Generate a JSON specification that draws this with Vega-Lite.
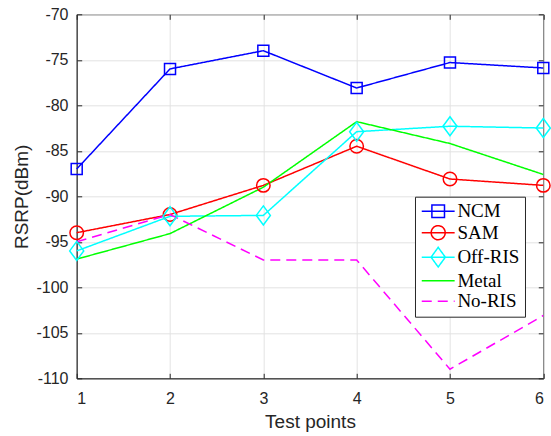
{
  "$schema": "https://vega.github.io/schema/vega-lite/v6.json",
  "width": 466.6,
  "height": 364,
  "autosize": "none",
  "padding": {"left": 76.7, "top": 14.3, "right": 8, "bottom": 58},
  "background": "white",
  "config": {
    "view": {"stroke": "#262626", "strokeWidth": 1},
    "axis": {
      "labelFont": "Liberation Sans",
      "labelFontSize": 16,
      "labelColor": "#262626",
      "titleFont": "Liberation Sans",
      "titleFontSize": 19,
      "titleFontWeight": "normal",
      "titleColor": "#262626",
      "domainColor": "#262626",
      "tickColor": "#262626",
      "gridColor": "#e3e3e3",
      "gridWidth": 1
    }
  },
  "data": {
    "values": [
      {"x": 1, "series": "NCM", "y": -87},
      {"x": 2, "series": "NCM", "y": -76},
      {"x": 3, "series": "NCM", "y": -74},
      {"x": 4, "series": "NCM", "y": -78.1},
      {"x": 5, "series": "NCM", "y": -75.3},
      {"x": 6, "series": "NCM", "y": -75.9},
      {"x": 1, "series": "SAM", "y": -94},
      {"x": 2, "series": "SAM", "y": -92},
      {"x": 3, "series": "SAM", "y": -88.8},
      {"x": 4, "series": "SAM", "y": -84.5},
      {"x": 5, "series": "SAM", "y": -88.1},
      {"x": 6, "series": "SAM", "y": -88.8},
      {"x": 1, "series": "Off-RIS", "y": -96},
      {"x": 2, "series": "Off-RIS", "y": -92.2},
      {"x": 3, "series": "Off-RIS", "y": -92.1},
      {"x": 4, "series": "Off-RIS", "y": -82.9},
      {"x": 5, "series": "Off-RIS", "y": -82.3},
      {"x": 6, "series": "Off-RIS", "y": -82.5},
      {"x": 1, "series": "Metal", "y": -96.9},
      {"x": 2, "series": "Metal", "y": -94.1},
      {"x": 3, "series": "Metal", "y": -89.0},
      {"x": 4, "series": "Metal", "y": -81.8},
      {"x": 5, "series": "Metal", "y": -84.2},
      {"x": 6, "series": "Metal", "y": -87.6},
      {"x": 1, "series": "No-RIS", "y": -95},
      {"x": 2, "series": "No-RIS", "y": -92},
      {"x": 3, "series": "No-RIS", "y": -97},
      {"x": 4, "series": "No-RIS", "y": -97},
      {"x": 5, "series": "No-RIS", "y": -109},
      {"x": 6, "series": "No-RIS", "y": -103.1}
    ]
  },
  "layer": [
    {
      "mark": {"type": "line", "strokeWidth": 1.5},
      "encoding": {
        "x": {"field": "x", "type": "quantitative", "scale": {"domain": [1, 6], "nice": false, "zero": false},
          "axis": {"title": "Test points", "values": [1, 2, 3, 4, 5, 6], "grid": true, "tickSize": -5, "labelPadding": 17, "titleY": 49.7, "titleBaseline": "alphabetic", "labelExpr": "'' + datum.value"}},
        "y": {"field": "y", "type": "quantitative", "scale": {"domain": [-110, -70], "nice": false, "zero": false},
          "axis": {"title": "RSRP(dBm)", "values": [-110, -105, -100, -95, -90, -85, -80, -75, -70], "grid": true, "tickSize": -5, "labelPadding": 13.7, "titleX": -49.7, "titleBaseline": "alphabetic", "labelExpr": "'' + datum.value"}},
        "color": {"field": "series", "type": "nominal", "scale": {"domain": ["NCM", "SAM", "Off-RIS", "Metal", "No-RIS"], "range": ["#0000ff", "#ff0000", "#00ffff", "#00ff00", "#ff00ff"]}, "legend": null},
        "strokeDash": {"field": "series", "type": "nominal", "scale": {"domain": ["NCM", "SAM", "Off-RIS", "Metal", "No-RIS"], "range": [[1, 0], [1, 0], [1, 0], [1, 0], [10, 6]]}, "legend": null}
      }
    },
    {
      "transform": [{"filter": "datum.series === 'NCM'"}],
      "mark": {"type": "point", "shape": "square", "filled": false, "size": 121, "strokeWidth": 1.5, "opacity": 1},
      "encoding": {
        "x": {"field": "x", "type": "quantitative", "axis": null},
        "y": {"field": "y", "type": "quantitative", "axis": null},
        "color": {"field": "series", "type": "nominal", "scale": {"domain": ["NCM", "SAM", "Off-RIS", "Metal", "No-RIS"], "range": ["#0000ff", "#ff0000", "#00ffff", "#00ff00", "#ff00ff"]}, "legend": null}
      }
    },
    {
      "transform": [{"filter": "datum.series === 'SAM'"}],
      "mark": {"type": "point", "shape": "circle", "filled": false, "size": 182, "strokeWidth": 1.5, "opacity": 1},
      "encoding": {
        "x": {"field": "x", "type": "quantitative", "axis": null},
        "y": {"field": "y", "type": "quantitative", "axis": null},
        "color": {"field": "series", "type": "nominal", "scale": {"domain": ["NCM", "SAM", "Off-RIS", "Metal", "No-RIS"], "range": ["#0000ff", "#ff0000", "#00ffff", "#00ff00", "#ff00ff"]}, "legend": null}
      }
    },
    {
      "transform": [{"filter": "datum.series === 'Off-RIS'"}],
      "mark": {"type": "point", "shape": "M0,-1L0.74,0L0,1L-0.74,0Z", "filled": false, "size": 361, "strokeWidth": 1.5, "opacity": 1},
      "encoding": {
        "x": {"field": "x", "type": "quantitative", "axis": null},
        "y": {"field": "y", "type": "quantitative", "axis": null},
        "color": {"field": "series", "type": "nominal", "scale": {"domain": ["NCM", "SAM", "Off-RIS", "Metal", "No-RIS"], "range": ["#0000ff", "#ff0000", "#00ffff", "#00ff00", "#ff00ff"]}, "legend": null}
      }
    },
    {
      "mark": {"type": "point", "filled": false, "opacity": 0, "strokeWidth": 1.5},
      "encoding": {
        "x": {"field": "x", "type": "quantitative",
          "axis": {"orient": "top", "values": [1, 2, 3, 4, 5, 6], "labels": false, "title": null, "grid": false, "domain": false, "tickSize": -5}},
        "y": {"field": "y", "type": "quantitative",
          "axis": {"orient": "right", "values": [-110, -105, -100, -95, -90, -85, -80, -75, -70], "labels": false, "title": null, "grid": false, "domain": false, "tickSize": -5}},
        "color": {"field": "series", "type": "nominal",
          "scale": {"domain": ["NCM", "SAM", "Off-RIS", "Metal", "No-RIS"], "range": ["#0000ff", "#ff0000", "#00ffff", "#00ff00", "#ff00ff"]},
          "legend": {"title": null, "orient": "none", "legendX": 338.3, "legendY": 182.4, "fillColor": "white", "strokeColor": "#262626", "padding": 5, "labelFont": "Liberation Serif", "labelFontSize": 19, "labelColor": "black", "symbolSize": 196, "symbolOpacity": 1, "symbolStrokeWidth": 1.5, "symbolOffset": 8.7, "labelOffset": 9.7, "rowPadding": 0.5}},
        "shape": {"field": "series", "type": "nominal",
          "scale": {"domain": ["NCM", "SAM", "Off-RIS", "Metal", "No-RIS"],
            "range": [
              "M-2.35,0H2.35M-0.9,-0.9H0.9V0.9H-0.9Z",
              "M-2.35,0H2.35M-1,0A1,1 0 1,0 1,0A1,1 0 1,0 -1,0",
              "M-2.35,0H2.35M0,-1.4L1.02,0L0,1.4L-1.02,0Z",
              "M-2.35,0H2.35",
              "M-2.35,0H2.35"
            ]},
          "legend": {"title": null, "orient": "none", "legendX": 338.3, "legendY": 182.4, "fillColor": "white", "strokeColor": "#262626", "padding": 5, "labelFont": "Liberation Serif", "labelFontSize": 19, "labelColor": "black", "symbolSize": 196, "symbolOpacity": 1, "symbolStrokeWidth": 1.5, "symbolOffset": 8.7, "labelOffset": 9.7, "rowPadding": 0.5}},
        "strokeDash": {"field": "series", "type": "nominal",
          "scale": {"domain": ["NCM", "SAM", "Off-RIS", "Metal", "No-RIS"], "range": [[1, 0], [1, 0], [1, 0], [1, 0], [10, 6]]},
          "legend": {"title": null, "orient": "none", "legendX": 338.3, "legendY": 182.4, "fillColor": "white", "strokeColor": "#262626", "padding": 5, "labelFont": "Liberation Serif", "labelFontSize": 19, "labelColor": "black", "symbolSize": 196, "symbolOpacity": 1, "symbolStrokeWidth": 1.5, "symbolOffset": 8.7, "labelOffset": 9.7, "rowPadding": 0.5}}
      }
    }
  ],
  "resolve": {
    "scale": {"color": "independent", "strokeDash": "independent", "shape": "independent"},
    "legend": {"color": "independent", "strokeDash": "independent", "shape": "independent"},
    "axis": {"x": "independent", "y": "independent"}
  }
}
